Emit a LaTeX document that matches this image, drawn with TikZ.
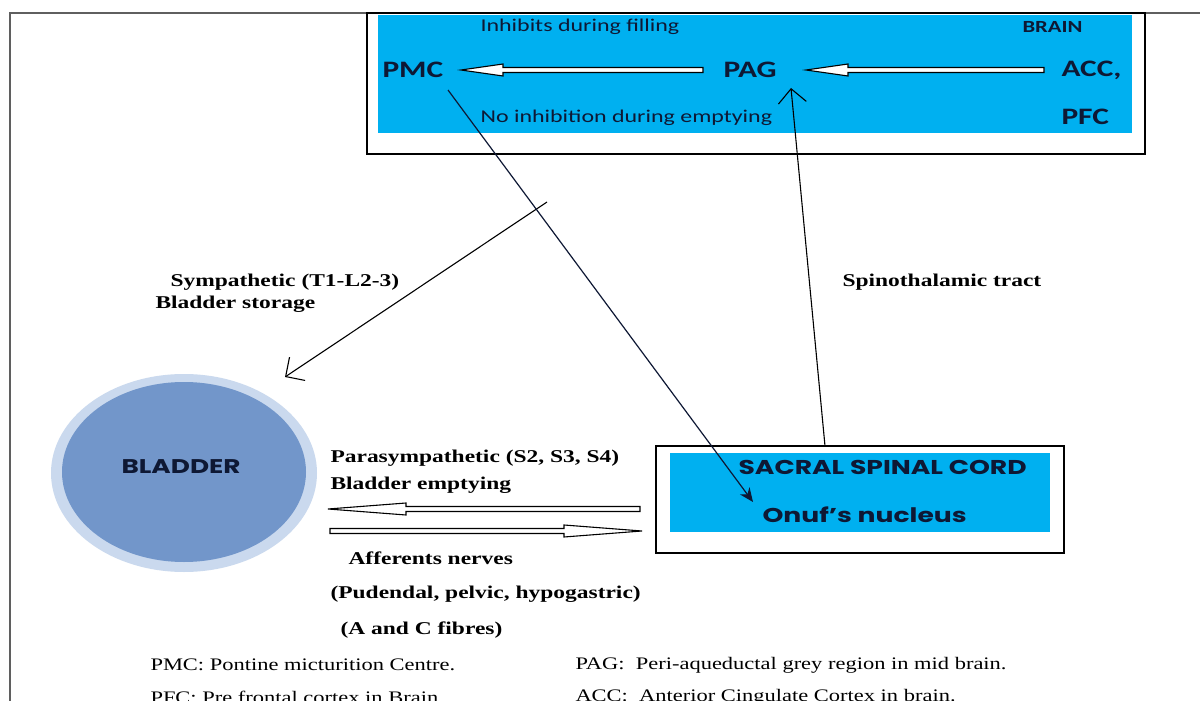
\documentclass[tikz,border=0pt]{standalone}
\usepackage{fontspec}
\setmainfont{Liberation Serif}
\newfontfamily\calfont{Carlito}
\newfontfamily\gothfont{Poppins}
\usetikzlibrary{arrows.meta,calc}
\definecolor{skyb}{RGB}{0,176,240}
\definecolor{navy}{RGB}{14,24,52}
\definecolor{bladin}{RGB}{114,150,202}
\definecolor{bladout}{RGB}{202,217,238}
\definecolor{framegray}{RGB}{95,95,95}
\newcommand\hollowarrow[5]{%
  \draw[hollowstyle] (#1) -- ++(#3,-#4) -- ++(0,{#4-#5}) -- ($(#2)+(0,-#5)$)
    -- ($(#2)+(0,#5)$) -- ($(#1)+(#3,#5)$) -- ($(#1)+(#3,#4)$) -- cycle;}
\begin{document}
\begin{tikzpicture}[x=0.5pt,y=-0.5pt,
  lbl/.style={inner sep=0pt, anchor=west, xscale=1.33},
  calb/.style={lbl, font=\calfont\bfseries\fontsize{11.8}{12}\selectfont, text=navy},
  cals/.style={lbl, font=\calfont\fontsize{9}{10}\selectfont, text=navy},
  gothb/.style={lbl, font=\gothfont\bfseries\fontsize{10}{11}\selectfont, text=navy},
  timb/.style={lbl, xscale=0.98, font=\bfseries\fontsize{9}{10}\selectfont},
  timr/.style={lbl, xscale=0.96, font=\fontsize{8.8}{10}\selectfont},
  hollowstyle/.style={draw=black, fill=white, line width=0.55pt},
  thin/.style={draw=black, line width=0.55pt},
  openhead/.style={-{Straight Barb[length=7pt,width=14pt,line width=0.55pt]}}
  ]
\clip (0,0) rectangle (1200,701);
\fill[white] (0,0) rectangle (1200,701);
% outer frame
\draw[framegray, line width=0.8pt] (10,701) -- (10,13) -- (1200,13);
% brain box
\draw[black, line width=0.7pt, fill=white] (367,13) rectangle (1145,154);
\fill[skyb] (378,15) rectangle (1132,133);
\node[cals] (inh) at (480,27) {Inhibits during filling};
\node[lbl, font=\calfont\bfseries\fontsize{8.5}{10}\selectfont, text=navy] (brain) at (1022,27) {BRAIN};
\node[calb] (pmc) at (382,70) {PMC};
\node[calb] (pag) at (723,70) {PAG};
\node[calb] (acc) at (1061,70) {ACC,};
\node[calb] (pfc) at (1061,117) {PFC};
\node[cals] (noinh) at (480,118) {No inhibition during emptying};
\coordinate (a1tip) at (461,70);
\coordinate (a1tail) at (703,70);
\coordinate (a2tip) at (806,70);
\coordinate (a2tail) at (1044,70);
\hollowarrow{a1tip}{a1tail}{42}{6}{2.5}
\hollowarrow{a2tip}{a2tail}{42}{6}{2.5}
% bladder
\fill[bladout] (184,473) ellipse [x radius=133, y radius=99];
\fill[bladin] (184,472) ellipse [x radius=122, y radius=90];
\node[gothb, font=\gothfont\bfseries\fontsize{9.9}{11}\selectfont] (bladder) at (121,467) {BLADDER};
% spinal cord box
\draw[black, line width=0.7pt, fill=white] (656,446) rectangle (1064,553);
\fill[skyb] (670,453) rectangle (1050,532);
\node[gothb] (sacral) at (738,467) {SACRAL SPINAL CORD};
\node[gothb] (onuf) at (762,515) {Onuf’s nucleus};
% labels
\node[timb] (symp) at (170,282) {Sympathetic (T1-L2-3)};
\node[timb] (stor) at (155,304) {Bladder storage};
\node[timb] (spino) at (842,282) {Spinothalamic tract};
\node[timb] (para) at (330,458) {Parasympathetic (S2, S3, S4)};
\node[timb] (empt) at (330,485) {Bladder emptying};
\node[timb] (aff) at (348,558) {Afferents nerves};
\node[timb] (pud) at (330,594) {(Pudendal, pelvic, hypogastric)};
\node[timb] (fib) at (340,630) {(A and C fibres)};
\node[timr] (lpmc) at (150,665) {PMC: Pontine micturition Centre.};
\node[timr] (lpag) at (575,665) {PAG:\ \ Peri-aqueductal grey region in mid brain.};
\node[timr] (lpfc) at (150,697) {PFC: Pre frontal cortex in Brain.};
\node[timr] (lacc) at (575,697) {ACC:\ \ Anterior Cingulate Cortex in brain.};
% hollow arrows between bladder and spinal cord
\coordinate (p1tip) at (328,509);
\coordinate (p1tail) at (640,509);
\coordinate (p2tip) at (642,531);
\coordinate (p2tail) at (330,531);
\hollowarrow{p1tip}{p1tail}{78}{6}{2.5}
\hollowarrow{p2tip}{p2tail}{-78}{6}{2.5}
% line connectors
\coordinate (sympS) at (547,202);
\coordinate (sympE) at (285,377);
\draw[thin, openhead] (sympS) -- (sympE);
\coordinate (pmcS) at (448,90);
\coordinate (onufE) at (753,502);
\draw[navy, line width=0.6pt, -{Stealth[length=7pt,width=6pt]}] (pmcS) -- (onufE);
\coordinate (spS) at (825,446);
\coordinate (spE) at (791,88);
\draw[thin, openhead] (spS) -- (spE);
\end{tikzpicture}
\end{document}
